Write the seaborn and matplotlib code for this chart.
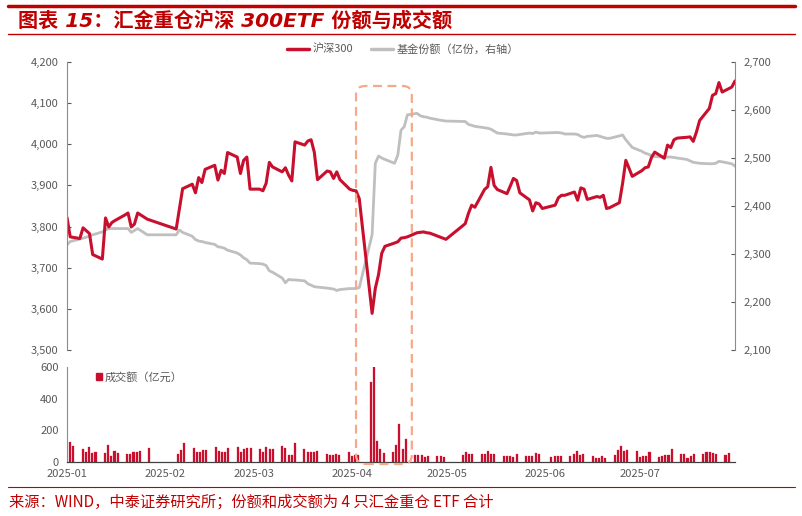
import pandas as pd
import numpy as np
import seaborn as sns
import matplotlib
matplotlib.use('Agg')
import matplotlib.pyplot as plt
import matplotlib.dates as mdates
from matplotlib.lines import Line2D
from matplotlib.patches import FancyBboxPatch, Patch
from matplotlib.transforms import IdentityTransform
from matplotlib.ticker import FuncFormatter

# 交易日（2025-01-02 至 2025-07-29，剔除节假日）
holidays = ['2025-01-28', '2025-01-29', '2025-01-30', '2025-01-31', '2025-02-03',
            '2025-02-04', '2025-04-04', '2025-05-01', '2025-05-02', '2025-05-05',
            '2025-06-02']
dates = pd.bdate_range('2025-01-02', '2025-07-29')
dates = dates[~dates.isin(pd.to_datetime(holidays))]

# 沪深300 收盘（左轴）
hs300_jan = [3822, 3775, 3771, 3797, 3790, 3783, 3732, 3721, 3821, 3799, 3810, 3815,
             3828, 3833, 3799, 3806, 3833, 3818]
hs300_feb = [3794, 3843, 3892, 3903, 3882, 3919, 3907, 3939, 3949, 3913, 3937, 3929,
             3980, 3969, 3929, 3961, 3969, 3891]
hs300_mar = [3891, 3887, 3905, 3956, 3945, 3933, 3943, 3925, 3911, 4006, 3998, 4008,
             4011, 3981, 3914, 3935, 3933, 3917, 3933, 3914, 3891]
hs300_apr = [3888, 3887, 3868, 3589, 3650, 3683, 3735, 3752, 3760, 3763, 3772, 3773,
             3775, 3785, 3786, 3787, 3785, 3784, 3775, 3772, 3769]
hs300_may = [3807, 3832, 3852, 3847, 3890, 3897, 3944, 3900, 3890, 3880, 3898, 3917,
             3912, 3882, 3865, 3838, 3858, 3855, 3844]
hs300_jun = [3852, 3870, 3876, 3876, 3884, 3864, 3894, 3891, 3866, 3873, 3871, 3876,
             3844, 3846, 3858, 3905, 3961, 3942, 3922, 3936]
hs300_jul = [3943, 3945, 3968, 3981, 3966, 3998, 3992, 4011, 4015, 4017, 4018, 4007,
             4030, 4058, 4087, 4119, 4123, 4150, 4127, 4139, 4154]

# 基金份额（亿份，右轴）
share_jan = [2319, 2326, 2331, 2333, 2335, 2338, 2340, 2346, 2350, 2353, 2353, 2353,
             2353, 2353, 2345, 2349, 2353, 2340]
share_feb = [2340, 2350, 2345, 2337, 2330, 2327, 2326, 2324, 2320, 2315, 2314, 2312,
             2308, 2302, 2298, 2292, 2288, 2281]
share_mar = [2280, 2279, 2276, 2265, 2262, 2250, 2240, 2247, 2246, 2246, 2244, 2238,
             2235, 2232, 2231, 2229, 2228, 2227, 2224, 2226, 2228]
share_apr = [2228, 2228, 2230, 2340, 2489, 2504, 2500, 2497, 2489, 2506, 2558, 2565,
             2590, 2593, 2588, 2586, 2585, 2583, 2579, 2578, 2577]
share_may = [2576, 2570, 2568, 2566, 2563, 2562, 2560, 2556, 2552, 2550, 2549, 2548,
             2548, 2549, 2552, 2551, 2554, 2552, 2552]
share_jun = [2553, 2553, 2552, 2550, 2550, 2549, 2545, 2543, 2545, 2547, 2545, 2543,
             2541, 2541, 2546, 2548, 2538, 2530, 2522, 2514]
share_jul = [2510, 2508, 2505, 2503, 2502, 2502, 2502, 2501, 2500, 2497, 2494, 2491,
             2490, 2489, 2488, 2488, 2489, 2493, 2492, 2488, 2483]

# 成交额（亿元）
amt_jan = [126, 103, 82, 63, 94, 55, 61, 59, 107, 40, 67, 55, 52, 48, 65, 63, 71, 86]
amt_feb = [52, 73, 122, 86, 65, 65, 75, 78, 92, 71, 61, 61, 86, 96, 61, 82, 86, 90]
amt_mar = [82, 61, 94, 84, 82, 103, 90, 44, 46, 122, 82, 63, 61, 61, 69, 52, 42, 42,
           50, 46, 61]
amt_apr = [36, 42, 45, 507, 604, 132, 84, 59, 65, 107, 237, 84, 145, 46, 44, 42, 29,
           38, 38, 36, 34]
amt_may = [46, 61, 50, 50, 48, 48, 71, 48, 48, 36, 36, 36, 30, 50, 40, 36, 36, 55, 48]
amt_jun = [34, 36, 40, 36, 36, 50, 67, 46, 50, 36, 27, 27, 38, 27, 44, 78, 99, 71, 78, 69]
amt_jul = [31, 38, 40, 61, 31, 38, 42, 44, 82, 48, 50, 27, 36, 48, 50, 63, 63, 55, 52,
           42, 55]

df = pd.DataFrame({
    'date': dates,
    'hs300': hs300_jan + hs300_feb + hs300_mar + hs300_apr + hs300_may + hs300_jun + hs300_jul,
    'share': share_jan + share_feb + share_mar + share_apr + share_may + share_jun + share_jul,
    'amount': amt_jan + amt_feb + amt_mar + amt_apr + amt_may + amt_jun + amt_jul,
})
df['x'] = mdates.date2num(df['date'])

RED = '#C8102E'
GRAY = '#BFBFBF'
TXT = '#595959'
TITLE_RED = '#C00000'
BOX = '#F6A98A'

sns.set_style('white')
plt.rcParams['font.family'] = ['Noto Sans CJK SC', 'DejaVu Sans']
plt.rcParams['axes.unicode_minus'] = False

W, H = 803, 516
fig = plt.figure(figsize=(W / 100, H / 100), dpi=100)


def rect(l, t, r, b):
    return [l / W, 1 - b / H, (r - l) / W, (b - t) / H]


ax1 = fig.add_axes(rect(67, 62, 735, 350))
ax2 = ax1.twinx()
ax3 = fig.add_axes(rect(67, 367, 735, 462))

# 上图：沪深300与基金份额
sns.lineplot(data=df, x='date', y='share', ax=ax2, color=GRAY, linewidth=2.0)
sns.lineplot(data=df, x='date', y='hs300', ax=ax1, color=RED, linewidth=2.2)
ax1.set_zorder(ax2.get_zorder() + 1)
ax1.patch.set_visible(False)

ax1.set_xlim(df['date'].iloc[0], df['date'].iloc[-1])
ax1.set_ylim(3500, 4200)
ax2.set_ylim(2100, 2700)
ax1.set_yticks(range(3500, 4201, 100))
ax2.set_yticks(range(2100, 2701, 100))
fmt = FuncFormatter(lambda v, p: f'{v:,.0f}')
ax1.yaxis.set_major_formatter(fmt)
ax2.yaxis.set_major_formatter(fmt)
for a in (ax1, ax2):
    a.set_xticks([])
    a.set_xlabel('')
    a.set_ylabel('')
    for s in a.spines.values():
        s.set_visible(False)
    a.tick_params(axis='y', labelsize=8, colors=TXT, direction='in', length=3,
                  width=0.8, pad=6)
ax1.spines['left'].set_visible(True)
ax1.spines['left'].set_color('#8C8C8C')
ax1.spines['left'].set_linewidth(0.8)
ax2.spines['right'].set_visible(True)
ax2.spines['right'].set_color('#8C8C8C')
ax2.spines['right'].set_linewidth(0.8)

# 下图：成交额
sns.barplot(x=df['x'], y=df['amount'], native_scale=True, orient='x', ax=ax3,
            color=RED, width=0.65, errorbar=None, saturation=1,
            edgecolor=RED, linewidth=0.2)
ax3.set_xlim(mdates.date2num(pd.Timestamp('2025-01-01')),
             mdates.date2num(pd.Timestamp('2025-07-31')))
ax3.set_ylim(0, 600)
ax3.set_yticks([0, 200, 400, 600])
ax3.xaxis.set_major_locator(mdates.MonthLocator())
ax3.xaxis.set_major_formatter(mdates.DateFormatter('%Y-%m'))
ax3.set_xlabel('')
ax3.set_ylabel('')
for s in ('top', 'right'):
    ax3.spines[s].set_visible(False)
ax3.spines['left'].set_color('#8C8C8C')
ax3.spines['left'].set_linewidth(0.8)
ax3.spines['bottom'].set_color('#404040')
ax3.spines['bottom'].set_linewidth(0.9)
ax3.tick_params(axis='y', labelsize=8, colors=TXT, direction='in', length=3,
                width=0.8, pad=6)
ax3.tick_params(axis='x', labelsize=8, colors=TXT, direction='in', length=2.5,
                width=0.8, pad=5)
for t in ax3.get_xticklines():
    t.set_color('#404040')

# 图例
fig.legend(handles=[Line2D([], [], color=RED, lw=2.5), Line2D([], [], color=GRAY, lw=2.5)],
           labels=['沪深300', '基金份额（亿份，右轴）'], loc='center',
           bbox_to_anchor=(403 / W, 1 - 49 / H), ncol=2, frameon=False, fontsize=8,
           handlelength=2.0, columnspacing=1.6, handletextpad=0.3, labelcolor=TXT)
fig.legend(handles=[Patch(color=RED)], labels=['成交额（亿元）'], loc='center left',
           bbox_to_anchor=(86 / W, 1 - 377 / H), frameon=False, fontsize=8,
           handlelength=0.5, handleheight=0.6, handletextpad=0.3, labelcolor=TXT)

# 虚线框：汇金增持区间
bx0 = ax1.transData.transform((mdates.date2num(pd.Timestamp('2025-04-02')), 3800))[0]
bx1 = ax1.transData.transform((mdates.date2num(pd.Timestamp('2025-04-19 09:00')), 3800))[0]
box = FancyBboxPatch((bx0, H - 464), bx1 - bx0, 464 - 86,
                     boxstyle='round,pad=0,rounding_size=9', transform=IdentityTransform(),
                     fill=False, ec=BOX, lw=1.6, ls=(0, (4, 2.5)), clip_on=False, zorder=5)
fig.add_artist(box)

# 标题与来源
fig.add_artist(Line2D([8 / W, 795 / W], [1 - 6 / H, 1 - 6 / H], color=TITLE_RED, lw=2.5,
                      transform=fig.transFigure))
fig.add_artist(Line2D([8 / W, 795 / W], [1 - 34 / H, 1 - 34 / H], color=TITLE_RED, lw=1.0,
                      transform=fig.transFigure))
fig.add_artist(Line2D([8 / W, 795 / W], [1 - 487 / H, 1 - 487 / H], color=TITLE_RED, lw=0.8,
                      transform=fig.transFigure))
fig.text(18 / W, 1 - 21 / H, '图表 15：汇金重仓沪深 300ETF 份额与成交额', color=TITLE_RED,
         fontsize=14.5, fontweight='bold', fontstyle='italic',
         family=['DejaVu Sans', 'Noto Sans CJK SC'], ha='left', va='center')
fig.text(9 / W, 1 - 502 / H, '来源：WIND，中泰证券研究所；份额和成交额为 4 只汇金重仓 ETF 合计',
         color=TITLE_RED, fontsize=11, ha='left', va='center')

fig.savefig('out.png', dpi=100)
